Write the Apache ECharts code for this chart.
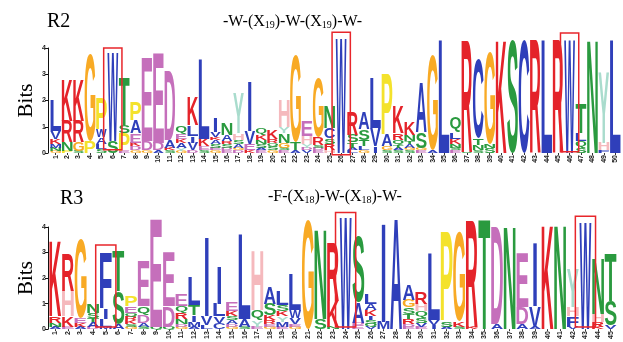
<!DOCTYPE html>
<html>
<head>
<meta charset="utf-8">
<script src="https://cdn.jsdelivr.net/npm/echarts@6/dist/echarts.min.js"></script>
<style>
  html, body { margin: 0; background: #fff; }
  #chart { width: 623px; height: 342px; }
</style>
</head>
<body>
<div id="chart"></div>
<script>
// letter stacks per position, bottom -> top, [residue, bits]
const r2Logo = [
  [['G',0.08],['N',0.12],['M',0.15],['K',0.2],['V',0.3],['L',1.15]],
  [['P',0.08],['N',0.35],['R',0.8],['K',1.6]],
  [['S',0.08],['G',0.35],['R',0.8],['K',1.6]],
  [['P',0.45],['G',3.3]],
  [['S',0.15],['L',0.2],['A',0.25],['W',0.3],['P',1.2]],
  [['S',0.45],['W',3.35]],
  [['E',0.07],['P',0.7],['S',0.3],['T',1.85]],
  [['G',0.1],['D',0.15],['K',0.15],['E',0.35],['A',0.5],['P',0.7]],
  [['G',0.1],['D',0.35],['E',3.15]],
  [['A',0.1],['D',0.3],['E',3.4]],
  [['S',0.1],['K',0.1],['A',0.3],['D',2.65]],
  [['G',0.08],['Y',0.1],['A',0.2],['K',0.15],['E',0.2],['Q',0.32]],
  [['D',0.1],['V',0.3],['I',0.25],['L',0.4],['K',1.1]],
  [['S',0.1],['E',0.15],['K',0.3],['L',3.0]],
  [['G',0.1],['E',0.1],['S',0.15],['A',0.15],['K',0.1],['V',0.2],['I',0.55]],
  [['E',0.1],['D',0.1],['S',0.15],['R',0.1],['A',0.25],['N',0.45]],
  [['D',0.1],['G',0.1],['A',0.15],['S',0.15],['H',0.25],['Y',1.5]],
  [['K',0.1],['E',0.25],['V',0.5],['I',1.9]],
  [['E',0.1],['A',0.1],['S',0.15],['N',0.15],['K',0.2],['Q',0.25]],
  [['G',0.1],['S',0.15],['Q',0.15],['R',0.15],['K',0.35]],
  [['E',0.1],['S',0.1],['G',0.2],['N',0.35],['Y',0.25],['H',1.05]],
  [['A',0.1],['T',0.3],['G',3.3]],
  [['V',0.1],['D',0.1],['Y',0.15],['H',0.3],['E',0.6]],
  [['E',0.1],['D',0.1],['S',0.1],['R',0.3],['G',2.25]],
  [['H',0.1],['R',0.25],['S',0.2],['C',0.4],['N',0.85]],
  [['W',4.35]],
  [['L',0.1],['A',0.1],['T',0.2],['S',0.3],['R',0.85]],
  [['G',0.1],['L',0.15],['T',0.25],['S',0.4],['A',0.65]],
  [['I',0.25],['V',0.7],['L',1.9]],
  [['S',0.1],['G',0.15],['A',0.45],['P',2.3]],
  [['S',0.1],['A',0.1],['T',0.1],['Q',0.2],['R',0.25],['K',1.05]],
  [['S',0.1],['G',0.1],['A',0.15],['T',0.1],['N',0.25],['K',0.5]],
  [['E',0.1],['G',0.1],['S',0.6],['A',1.9]],
  [['A',0.1],['G',3.6]],
  [['L',4.3]],
  [['E',0.1],['S',0.1],['N',0.15],['K',0.2],['L',0.25],['Q',0.55]],
  [['S',0.05],['R',4.25]],
  [['S',0.1],['N',0.2],['T',0.25],['C',3.0]],
  [['S',0.2],['N',0.15],['G',3.5]],
  [['K',4.3]],
  [['S',4.3]],
  [['C',4.3]],
  [['R',4.3]],
  [['L',4.3]],
  [['R',4.3]],
  [['W',4.3]],
  [['S',0.2],['Q',0.25],['L',0.3],['T',1.15]],
  [['N',4.3]],
  [['F',0.1],['H',0.3],['Y',2.7]],
  [['L',4.3]]
];

const r3Logo = [
  [['A',0.1],['N',0.15],['R',0.25],['K',2.95]],
  [['E',0.1],['K',0.4],['H',1.0],['R',1.45]],
  [['A',0.1],['K',0.15],['E',0.2],['G',3.1]],
  [['D',0.1],['A',0.2],['T',0.15],['S',0.2],['N',0.35]],
  [['M',0.1],['L',0.3],['I',0.4],['F',2.2]],
  [['A',0.2],['S',1.3],['T',1.55]],
  [['G',0.1],['S',0.1],['K',0.15],['R',0.15],['Q',0.15],['E',0.25],['P',0.4]],
  [['S',0.1],['A',0.15],['D',0.3],['Q',0.35],['E',1.75]],
  [['Q',0.1],['E',4.2]],
  [['Q',0.1],['D',0.8],['E',2.1]],
  [['G',0.1],['D',0.1],['N',0.2],['R',0.25],['Q',0.25],['E',0.45]],
  [['A',0.1],['M',0.2],['I',0.25],['T',0.4],['L',1.1]],
  [['L',0.15],['V',0.35],['I',3.1]],
  [['C',0.25],['V',0.25],['L',0.5],['I',1.45]],
  [['G',0.1],['D',0.1],['A',0.15],['S',0.15],['K',0.2],['E',0.35]],
  [['S',0.1],['A',0.3],['L',3.3]],
  [['E',0.1],['Y',0.25],['Q',0.4],['H',2.35]],
  [['G',0.1],['E',0.1],['R',0.15],['K',0.2],['S',0.45],['A',0.65]],
  [['E',0.1],['M',0.2],['Y',0.2],['K',0.2],['S',0.25],['L',0.55]],
  [['G',0.1],['E',0.1],['V',0.25],['W',0.3],['L',1.4]],
  [['G',4.3]],
  [['S',0.4],['N',3.5]],
  [['N',0.1],['K',1.0],['R',2.25]],
  [['W',4.35]],
  [['E',0.15],['D',0.1],['A',0.8],['S',2.55]],
  [['V',0.1],['Q',0.1],['S',0.15],['I',0.15],['K',0.25],['A',0.25],['L',0.4]],
  [['M',0.3],['I',3.85]],
  [['A',4.3]],
  [['E',0.1],['D',0.1],['R',0.2],['T',0.2],['S',0.25],['G',0.3],['A',0.6]],
  [['E',0.1],['V',0.15],['S',0.2],['Q',0.25],['H',0.3],['R',0.45]],
  [['I',0.15],['V',0.2],['L',2.6]],
  [['A',0.1],['S',0.2],['P',3.5]],
  [['S',0.1],['K',0.2],['G',3.5]],
  [['K',0.1],['R',4.15]],
  [['T',4.3]],
  [['A',0.2],['D',3.8]],
  [['N',4.0]],
  [['A',0.2],['D',0.65],['E',2.1]],
  [['A',0.1],['V',0.8],['I',2.5]],
  [['K',4.05]],
  [['N',4.05]],
  [['V',0.1],['F',0.4],['H',0.35],['Y',1.5]],
  [['W',4.15]],
  [['K',0.1],['R',0.2],['H',0.3],['N',2.2]],
  [['V',0.15],['S',0.95],['T',1.9]]
];

// highlighted tryptophan / phenylalanine columns: [position, bottom bits, top bits]
const r2Boxes = [[6, 0.12, 4.0], [26, -0.07, 4.6], [46, 0.05, 4.57]];
const r3Boxes = [[5, 0.09, 3.3], [24, 0.09, 4.57], [43, 0.09, 4.42]];

const r2Positions = r2Logo.map((_, i) => String(i + 1));
const r3Positions = r3Logo.map((_, i) => String(i + 1));
const yTicks = [0, 4, 1]; // min, max, interval

const colors = {
  A: '#2f3fba', C: '#2f3fba', F: '#2f3fba', I: '#2f3fba', L: '#2f3fba',
  M: '#2f3fba', V: '#2f3fba', W: '#2f3fba',
  K: '#e4232a', R: '#e4232a', H: '#f5b9bd',
  S: '#2a9a3f', T: '#2a9a3f', N: '#2a9a3f', Q: '#2a9a3f',
  D: '#c56fbb', E: '#c56fbb', G: '#f8aa25', P: '#f4e22c', Y: '#a9dccd'
};

const FONT = 'bold 100px "Liberation Sans"';
const ctx = document.createElement('canvas').getContext('2d');
ctx.font = FONT;
ctx.textBaseline = 'middle';
ctx.textAlign = 'left';
const glyph = {};
Object.keys(colors).forEach(ch => {
  const m = ctx.measureText(ch);
  glyph[ch] = { l: m.actualBoundingBoxLeft, r: m.actualBoundingBoxRight,
                a: m.actualBoundingBoxAscent, d: m.actualBoundingBoxDescent };
});

function stackItems(logo) {
  const items = [];
  logo.forEach((col, i) => {
    let y = 0;
    col.forEach(([ch, h]) => {
      items.push({ value: [i, y, y + h], letter: ch });
      y += h;
    });
  });
  return items;
}

function letterRenderer(items) {
  return function (params, api) {
    const it = items[params.dataIndex];
    const g = glyph[it.letter];
    const bottom = api.coord([api.value(0), api.value(1)]);
    const top = api.coord([api.value(0), api.value(2)]);
    const band = api.size([1, 0])[0];
    const w = band * (it.letter === 'I' ? 0.3 : 0.94);
    const h = bottom[1] - top[1];
    if (h < 0.3) return null;
    const sx = w / (g.l + g.r), sy = h / (g.a + g.d);
    return {
      type: 'text',
      silent: true,
      x: bottom[0] - w / 2 + g.l * sx,
      y: top[1] + g.a * sy,
      scaleX: sx,
      scaleY: sy,
      style: {
        text: it.letter, x: 0, y: 0, font: FONT, fill: colors[it.letter],
        align: 'left', verticalAlign: 'middle', textAlign: 'left', textVerticalAlign: 'middle'
      }
    };
  };
}

function boxRenderer(params, api) {
  const b = api.coord([api.value(0), api.value(1)]);
  const t = api.coord([api.value(0), api.value(2)]);
  const w = api.size([1, 0])[0] * 1.6;
  return {
    type: 'rect',
    silent: true,
    z2: 10,
    shape: { x: b[0] - w / 2, y: t[1], width: w, height: b[1] - t[1] },
    style: { fill: 'none', stroke: '#e8262b', lineWidth: 1.5 }
  };
}

const r2Items = stackItems(r2Logo);
const r3Items = stackItems(r3Logo);

const chart = echarts.init(document.getElementById('chart'), null, { renderer: 'canvas' });

const xAxisBase = {
  type: 'category',
  axisLine: { show: false },
  axisTick: { show: true, length: 2, alignWithLabel: true, lineStyle: { color: '#333' } },
  axisLabel: { rotate: 90, fontSize: 7, fontWeight: 'bold', color: '#222', interval: 0, margin: 2 },
  splitLine: { show: false }
};
const yAxisBase = {
  type: 'value',
  min: yTicks[0], max: yTicks[1], interval: yTicks[2],
  axisLine: { show: true, lineStyle: { color: '#111', width: 1 } },
  axisTick: { show: true, length: 3, lineStyle: { color: '#111' } },
  axisLabel: { fontSize: 7, fontWeight: 'bold', color: '#222', margin: 2 },
  splitLine: { show: false },
  name: 'Bits',
  nameLocation: 'middle',
  nameGap: 11,
  nameMoveOverlap: false,
  nameTextStyle: { fontFamily: '"Liberation Serif"', fontSize: 21, color: '#000' }
};

const titleFont = '20px "Liberation Serif"';
const motifRich = { s: { fontFamily: 'Liberation Serif', fontSize: 10, verticalAlign: 'bottom', color: '#000' } };

chart.setOption({
  animation: false,
  grid: [
    { left: 50, right: 2, top: 48, height: 105 },
    { left: 49, right: 6, top: 227, height: 107 }
  ],
  xAxis: [
    Object.assign({}, xAxisBase, { gridIndex: 0, data: r2Positions }),
    Object.assign({}, xAxisBase, { gridIndex: 1, data: r3Positions })
  ],
  yAxis: [
    Object.assign({}, yAxisBase, { gridIndex: 0, offset: 2 }),
    Object.assign({}, yAxisBase, { gridIndex: 1, offset: 1 })
  ],
  graphic: [
    { type: 'text', left: 47, top: 12, style: { text: 'R2', font: titleFont, fill: '#000' } },
    { type: 'text', left: 223, top: 14, style: {
        text: '-W-(X{s|19})-W-(X{s|19})-W-', font: '16px "Liberation Serif"', fill: '#000', rich: motifRich } },
    { type: 'text', left: 60, top: 189, style: { text: 'R3', font: titleFont, fill: '#000' } },
    { type: 'text', left: 268, top: 189, style: {
        text: '-F-(X{s|18})-W-(X{s|18})-W-', font: '16px "Liberation Serif"', fill: '#000', rich: motifRich } }
  ],
  series: [
    { type: 'custom', xAxisIndex: 0, yAxisIndex: 0, renderItem: letterRenderer(r2Items),
      data: r2Items.map(d => d.value), encode: { x: 0, y: 2 }, clip: false },
    { type: 'custom', xAxisIndex: 1, yAxisIndex: 1, renderItem: letterRenderer(r3Items),
      data: r3Items.map(d => d.value), encode: { x: 0, y: 2 }, clip: false },
    { type: 'custom', xAxisIndex: 0, yAxisIndex: 0, renderItem: boxRenderer,
      data: r2Boxes.map(b => [b[0] - 1, b[1], b[2]]), encode: { x: 0, y: 2 }, clip: false, z: 5 },
    { type: 'custom', xAxisIndex: 1, yAxisIndex: 1, renderItem: boxRenderer,
      data: r3Boxes.map(b => [b[0] - 1, b[1], b[2]]), encode: { x: 0, y: 2 }, clip: false, z: 5 }
  ]
});
</script>
</body>
</html>
